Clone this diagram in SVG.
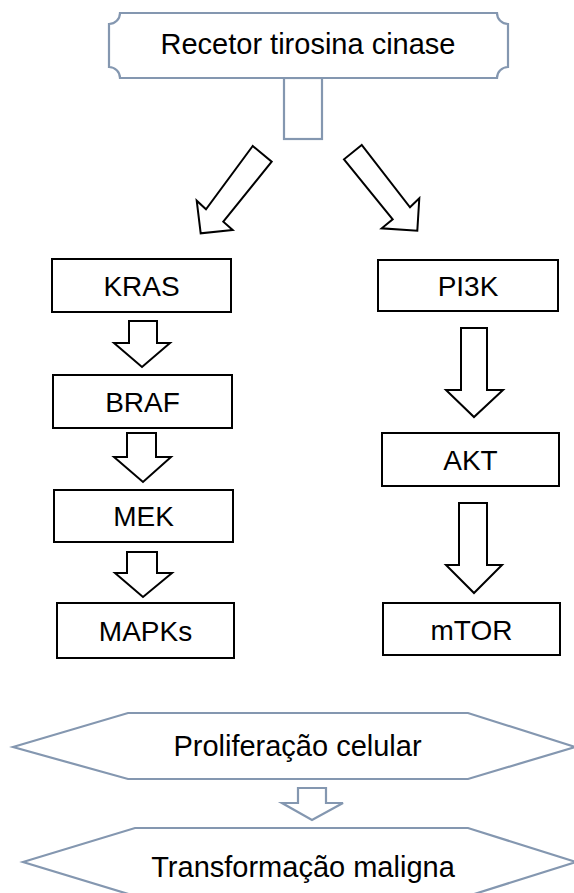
<svg xmlns="http://www.w3.org/2000/svg" width="574" height="893" viewBox="0 0 574 893">
<style>
.bx{fill:#fff;stroke:#000;stroke-width:2}
.bl{fill:#fff;stroke:#8497B0;stroke-width:2.2;stroke-linejoin:miter}
.ar{fill:#fff;stroke:#000;stroke-width:2;stroke-linejoin:miter}
.t{font-family:"Liberation Sans",Arial,sans-serif;font-size:28px;fill:#000;text-anchor:middle}
.tb{font-family:"Liberation Sans",Arial,sans-serif;font-size:29px;fill:#000;text-anchor:middle}
</style>
<rect width="574" height="893" fill="#fff"/>
<g id="connectors">
<rect class="bl" x="284" y="78" width="38" height="61"/>
<polygon class="ar" points="252.7,146 206,209.3 196.7,200.7 200.7,233.3 232.7,230 223.3,221.7 271.7,161.7"/>
<polygon class="ar" points="361.7,145 344,159.3 392.7,219.3 381.7,228.3 417.3,230.7 419.3,198.3 410,207.3"/>
<polygon class="ar" points="129,321 157,321 157,343 170,343 142,367 114,343 129,343"/>
<polygon class="ar" points="127,433 156,433 156,457 171,457 143,482 114,457 127,457"/>
<polygon class="ar" points="127,552 157,552 157,573 172,573 143,597 115,573 127,573"/>
<polygon class="ar" points="461,328 487,328 487,390 503,390 474,417 446,390 461,390"/>
<polygon class="ar" points="459,503 487,503 487,565 502,565 474,593 446,565 459,565"/>
<polygon class="bl" points="298,788 326,788 326,803 343,803 312,820 282,803 298,803"/>
</g>
<g id="receptor">
<path class="bl" d="M120,13 H497 A11,11 0 0 0 508,24 V67 A11,11 0 0 0 497,78 H120 A11,11 0 0 0 109,67 V24 A11,11 0 0 0 120,13 Z"/>
<text class="tb" x="308" y="54">Recetor tirosina cinase</text>
</g>
<g id="kras"><rect class="bx" x="52" y="259" width="179" height="53"/><text class="t" x="141.5" y="296">KRAS</text></g>
<g id="braf"><rect class="bx" x="53" y="375" width="179" height="53"/><text class="t" x="142.5" y="412">BRAF</text></g>
<g id="mek"><rect class="bx" x="54" y="490" width="179" height="52"/><text class="t" x="143.5" y="526">MEK</text></g>
<g id="mapks"><rect class="bx" x="57" y="603" width="177" height="55"/><text class="t" x="145.5" y="641">MAPKs</text></g>
<g id="pi3k"><rect class="bx" x="378" y="260" width="180" height="51"/><text class="t" x="468" y="296">PI3K</text></g>
<g id="akt"><rect class="bx" x="382" y="433" width="177" height="53"/><text class="t" x="470.5" y="470">AKT</text></g>
<g id="mtor"><rect class="bx" x="383" y="603" width="177" height="52"/><text class="t" x="471.5" y="640">mTOR</text></g>
<g id="proliferacao">
<polygon class="bl" points="13,747 128,713 468,713 575,747 468,779 128,779"/>
<text class="tb" x="297.5" y="756">Proliferação celular</text>
</g>
<g id="transformacao">
<polygon class="bl" points="23,862 135,828 468,828 576,862 468,896 135,896"/>
<text class="tb" x="303" y="877">Transformação maligna</text>
</g>
</svg>
